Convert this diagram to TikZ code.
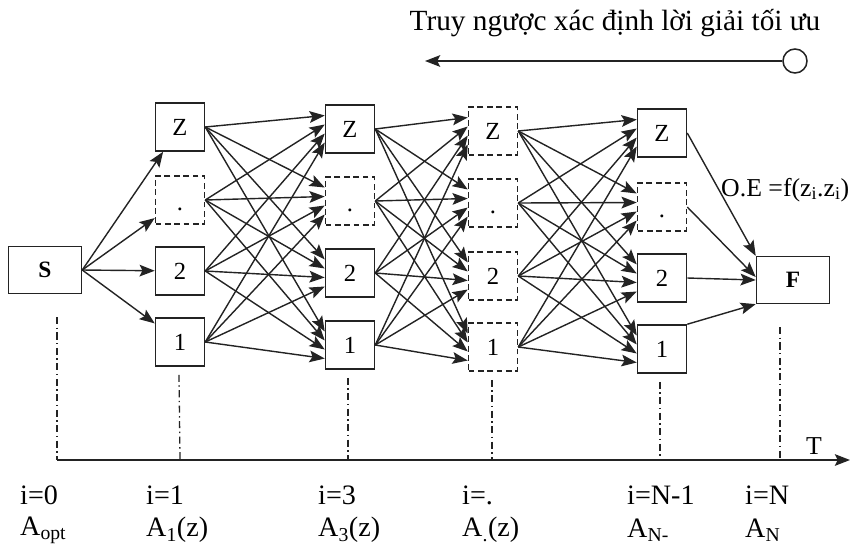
\documentclass[tikz,border=0pt]{standalone}
\usepackage{fontspec}
\setmainfont{Liberation Serif}
\usetikzlibrary{arrows.meta,calc}
\definecolor{ink}{RGB}{35,35,35}
\newcommand{\lowdot}{\smash{\raisebox{-9pt}{.}}}
\begin{document}
\begin{tikzpicture}[x=0.03cm,y=-0.03cm,
  box/.style={draw=ink,line width=1.3pt,minimum width=1.47cm,minimum height=1.44cm,inner sep=0pt,font=\fontsize{21}{24}\selectfont},
  dbox/.style={box,dash pattern=on 5pt off 3pt},
  bigbox/.style={draw=ink,line width=1.3pt,minimum width=2.19cm,minimum height=1.4cm,inner sep=0pt,font=\fontsize{20}{24}\selectfont\bfseries},
  arr/.style={draw=ink,line width=1.2pt,-{Stealth[length=13pt,width=10pt,inset=2.5pt]}},
  dd/.style={draw=ink,line width=1.1pt,dash pattern=on 6pt off 3pt on 1.2pt off 3pt},
  lbl/.style={font=\fontsize{24}{28}\selectfont,inner sep=0pt,anchor=west}]
\useasboundingbox (0,0) rectangle (853,552);

% title and back-tracking arrow
\node[font=\fontsize{25}{28}\selectfont] (title) at (615,23) {Truy ngược xác định lời giải tối ưu};
\node[draw=ink,circle,minimum size=0.72cm,inner sep=0pt,line width=1.3pt] (ring) at (795,61) {};
\coordinate (tip) at (425,61);
\draw[arr] (ring.west) -- (tip);

% start and final nodes
\node[bigbox] (S) at (45,270) {S};
\node[bigbox] (F) at (793,280) {F};

% column i=1
\node[box]  (A0) at (180,127) {Z};
\node[dbox] (A1) at (180,200) {\lowdot};
\node[box]  (A2) at (180,271) {2};
\node[box]  (A3) at (180,342) {1};
% column i=3
\node[box]  (B0) at (350,129) {Z};
\node[dbox] (B1) at (350,201) {\lowdot};
\node[box]  (B2) at (350,273) {2};
\node[box]  (B3) at (350,345) {1};
% column i=.
\node[dbox] (C0) at (493,131) {Z};
\node[dbox] (C1) at (493,203) {\lowdot};
\node[dbox] (C2) at (493,276) {2};
\node[dbox] (C3) at (493,347) {1};
% column i=N-1
\node[box]  (D0) at (662,133) {Z};
\node[dbox] (D1) at (662,207) {\lowdot};
\node[box]  (D2) at (662,278) {2};
\node[box]  (D3) at (662,349) {1};

% S to first column
\foreach \t in {0,...,3} {\draw[arr] (S.east) -- (A\t);}

% full connections between columns
\foreach \P/\Q in {A/B,B/C,C/D} {
  \foreach \s in {0,...,3} {
    \foreach \t in {0,...,3} {
      \draw[arr] (\P\s.east) -- ($(\Q\t.west)+(0,{(\s-1.5)*9})$);
    }
  }
}

% last column to F
\draw[arr] (D0.east) -- (F.north west);
\draw[arr] (D1.east) -- ($(F.west)+(0,-3)$);
\draw[arr] (D2.east) -- (F.west);
\draw[arr] (D3.north east) -- (F.south west);

\node[font=\fontsize{22}{26}\selectfont,inner sep=0pt,anchor=west] (oe) at (721,190) {O.E =f(z\textsubscript{i}.z\textsubscript{i})};

% time axis
\coordinate (ax0) at (57,460);
\coordinate (ax1) at (850,460);
\draw[arr] (ax0) -- (ax1);
\node[font=\fontsize{22}{26}\selectfont] (T) at (814,446) {T};

\coordinate (v0) at (57,317);
\coordinate (vF) at (780,327);
\draw[dd] (v0) -- (ax0);
\draw[dd] ($(A3.south)+(-1,8)$) -- (A3.south |- ax0);
\draw[dd] ($(B3.south)+(-2,8)$) -- ($(B3.south |- ax0)+(-2,0)$);
\draw[dd] ($(C3.south)+(-1,8)$) -- ($(C3.south |- ax0)+(-1,0)$);
\draw[dd] ($(D3.south)+(-2,8)$) -- ($(D3.south |- ax0)+(-2,0)$);
\draw[dd] (vF) -- (vF |- ax0);

% bottom labels
\node[lbl] (i0) at (20,495) {i=0};
\node[lbl] (a0) at (20,530) {A\textsubscript{opt}};
\node[lbl] (i1) at (146,495) {i=1};
\node[lbl] (a1) at (146,530) {A\textsubscript{1}(z)};
\node[lbl] (i3) at (318,495) {i=3};
\node[lbl] (a3) at (318,530) {A\textsubscript{3}(z)};
\node[lbl] (ix) at (462,495) {i=.};
\node[lbl] (ax) at (462,530) {A\textsubscript{.}(z)};
\node[lbl] (iN1) at (627,495) {i=N-1};
\node[lbl] (aN1) at (627,530) {A\textsubscript{N-}};
\node[lbl] (iN) at (745,495) {i=N};
\node[lbl] (aN) at (745,530) {A\textsubscript{N}};
\end{tikzpicture}
\end{document}
